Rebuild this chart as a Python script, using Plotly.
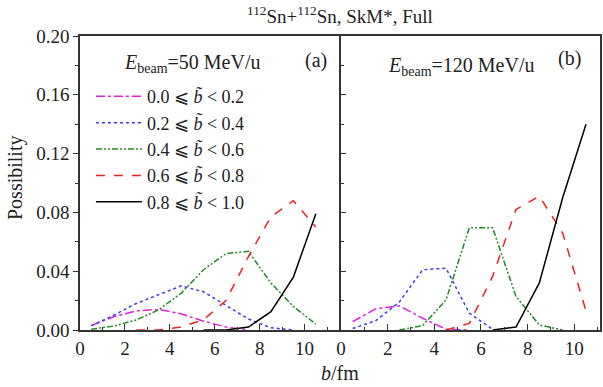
import plotly.graph_objects as go

# b (fm) grid
b_vals = [0.5, 1.5, 2.5, 3.5, 4.5, 5.5, 6.5, 7.5, 8.5, 9.5, 10.5]

labels = ["0.0 ⩽ <i>b̃</i> < 0.2", "0.2 ⩽ <i>b̃</i> < 0.4", "0.4 ⩽ <i>b̃</i> < 0.6",
          "0.6 ⩽ <i>b̃</i> < 0.8", "0.8 ⩽ <i>b̃</i> < 1.0"]

# Panel (a): E_beam = 50 MeV/u
a_b00 = [0.003, 0.009, 0.013, 0.014, 0.011, 0.006, 0.002, 0.0, None, None, None]
a_b02 = [0.003, 0.010, 0.018, 0.024, 0.030, 0.026, 0.017, 0.0075, 0.0015, 0.0, None]
a_b04 = [0.0005, 0.0027, 0.0068, 0.0137, 0.025, 0.041, 0.052, 0.0535, 0.032, 0.016, 0.004]
a_b06 = [None, None, 0.0, 0.0, 0.002, 0.007, 0.020, 0.050, 0.077, 0.088, 0.070]
a_b08 = [None, None, None, None, None, 0.0, 0.0, 0.002, 0.0125, 0.036, 0.079]

# Panel (b): E_beam = 120 MeV/u
b_b00 = [0.0057, 0.0145, 0.0165, 0.008, 0.0005, 0.0, None, None, None, None, None]
b_b02 = [0.001, 0.0064, 0.019, 0.041, 0.042, 0.0114, 0.0005, None, None, None, None]
b_b04 = [None, None, 0.0, 0.003, 0.0205, 0.0695, 0.0695, 0.0228, 0.0034, 0.0, None]
b_b06 = [None, None, None, None, 0.0, 0.0045, 0.0365, 0.082, 0.091, 0.066, 0.013]
b_b08 = [None, None, None, None, None, None, 0.0, 0.002, 0.032, 0.090, 0.140]

colors = ["#e020e0", "#3a3af0", "#1e8c1e", "#f02020", "#000000"]
dashes = ["dashdot", "dot", "6px,2px,2px,2px,2px,2px", "dash", "solid"]

FONT = "Liberation Serif"

fig = go.Figure()
series_a = [a_b00, a_b02, a_b04, a_b06, a_b08]
series_b = [b_b00, b_b02, b_b04, b_b06, b_b08]
for i in range(5):
    fig.add_trace(go.Scatter(x=b_vals, y=series_a[i], mode="lines", name=labels[i],
                             line=dict(color=colors[i], dash=dashes[i], width=1.5),
                             xaxis="x", yaxis="y", connectgaps=False))
for i in range(5):
    fig.add_trace(go.Scatter(x=b_vals, y=series_b[i], mode="lines", name=labels[i],
                             line=dict(color=colors[i], dash=dashes[i], width=1.5),
                             xaxis="x2", yaxis="y2", showlegend=False))

W, H = 603, 387
ML, MR, MT, MB = 80, 1, 36, 57
split = (342 - 80) / (W - ML - MR)

axis_common = dict(showline=True, linecolor="#333", linewidth=1.5,
                   showgrid=False, zeroline=False,
                   tickfont=dict(family=FONT, size=19, color="#222"))

fig.update_layout(
    width=W, height=H,
    margin=dict(l=ML, r=MR, t=MT, b=MB),
    paper_bgcolor="white", plot_bgcolor="white",
    font=dict(family=FONT, color="#222"),
    xaxis=dict(domain=[0, split], range=[0, 11.62], tickvals=[0, 2, 4, 6, 8, 10],
               ticks="inside", ticklen=6, tickcolor="#333", mirror=True,
               minor=dict(dtick=1, tick0=0, ticks="inside", ticklen=3, tickcolor="#333"),
               **axis_common),
    yaxis=dict(domain=[0, 1], range=[0, 0.2], tickvals=[0, 0.04, 0.08, 0.12, 0.16, 0.20],
               tickformat=".2f", ticks="outside", ticklen=5, tickcolor="#333", mirror=False,
               minor=dict(dtick=0.02, tick0=0, ticks="outside", ticklen=3, tickcolor="#333"),
               **axis_common),
    xaxis2=dict(domain=[split, 1], range=[0, 11.1], tickvals=[0, 2, 4, 6, 8, 10],
                ticks="inside", ticklen=6, tickcolor="#333", anchor="y2", mirror=True,
                minor=dict(dtick=1, tick0=0, ticks="inside", ticklen=3, tickcolor="#333"),
                **axis_common),
    yaxis2=dict(domain=[0, 1], range=[0, 0.2], anchor="x2", showticklabels=False,
                tickvals=[0, 0.04, 0.08, 0.12, 0.16, 0.20], mirror=True,
                ticks="inside", ticklen=5, tickcolor="#333",
                minor=dict(dtick=0.02, tick0=0, ticks="inside", ticklen=3, tickcolor="#333"),
                **axis_common),
    legend=dict(x=0.021, y=0.857, xanchor="left", yanchor="top",
                bgcolor="rgba(0,0,0,0)", font=dict(family=FONT, size=18, color="#222"),
                tracegroupgap=0, itemwidth=46),
    showlegend=True,
)

fig.add_annotation(text="<sup>112</sup>Sn+<sup>112</sup>Sn, SkM*, Full", xref="paper", yref="paper",
                   x=0.5, y=1.0, yanchor="middle", yshift=21, showarrow=False,
                   font=dict(family=FONT, size=19))
fig.add_annotation(text="<i>E</i><sub>beam</sub>=50 MeV/u", xref="x", yref="y",
                   x=5.0, y=0.181, xanchor="center", showarrow=False, font=dict(family=FONT, size=20))
fig.add_annotation(text="(a)", xref="x", yref="y", x=10.5, y=0.183, showarrow=False,
                   font=dict(family=FONT, size=20))
fig.add_annotation(text="<i>E</i><sub>beam</sub>=120 MeV/u", xref="x2", yref="y2",
                   x=5.15, y=0.179, xanchor="center", showarrow=False, font=dict(family=FONT, size=20))
fig.add_annotation(text="(b)", xref="x2", yref="y2", x=9.8, y=0.185, showarrow=False,
                   font=dict(family=FONT, size=20))
fig.add_annotation(text="<i>b</i>/fm", xref="paper", yref="paper", x=0.5, y=0, yanchor="middle",
                   yshift=-43, showarrow=False, font=dict(family=FONT, size=20))
fig.add_annotation(text="Possibility", xref="paper", yref="paper", x=0, xanchor="center",
                   xshift=-65, y=0.5, yshift=5, textangle=-90, showarrow=False,
                   font=dict(family=FONT, size=20))

# remove the default page margin so the figure sits at the window's top-left corner
fig.write_html("out.html", config={"displayModeBar": False},
               post_script="document.body.style.margin='0px';")
